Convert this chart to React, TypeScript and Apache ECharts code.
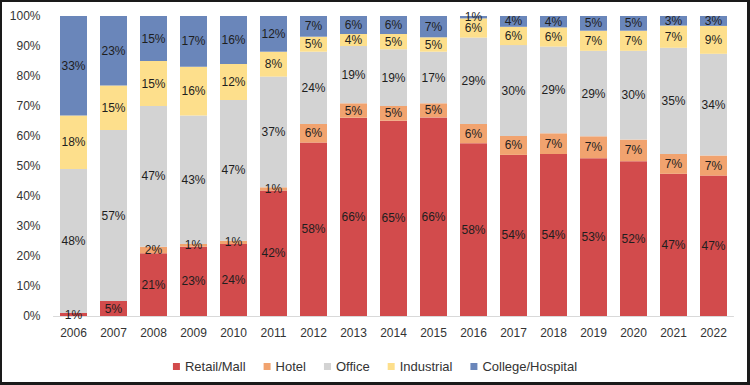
import React, { useEffect, useRef } from "react";
import * as echarts from "echarts";

const years = ["2006", "2007", "2008", "2009", "2010", "2011", "2012", "2013", "2014", "2015", "2016", "2017", "2018", "2019", "2020", "2021", "2022"];
const retailMall = [1, 5, 20.9, 23.1, 24, 41.8, 57.8, 66.1, 65.1, 66.2, 57.6, 53.7, 54, 52.6, 51.6, 47.4, 46.8];
const hotel = [0, 0, 2.2, 0.9, 1.1, 1.1, 6.2, 4.8, 4.9, 4.7, 6.4, 6.3, 6.9, 7.3, 7.2, 6.6, 6.7];
const office = [48, 57, 46.9, 42.8, 46.9, 36.9, 24.1, 19.1, 18.9, 17.2, 28.8, 30.3, 28.9, 28.5, 29.6, 35.4, 33.9];
const industrial = [17.8, 14.8, 15, 16.3, 12, 8.3, 5, 4, 5.1, 4.8, 6.4, 6.1, 6.4, 6.7, 6.7, 7.4, 9.3];
const collegeHospital = [33.2, 23.2, 15, 16.9, 16, 11.9, 6.9, 6, 6, 7.1, 0.8, 3.6, 3.8, 4.9, 4.9, 3.2, 3.3];
const yTicks = [0, 10, 20, 30, 40, 50, 60, 70, 80, 90, 100];

const FONT = "'Liberation Sans', Arial, sans-serif";

const seriesDefs = [
  { name: "Retail/Mall", data: retailMall, color: "#D24B4C" },
  { name: "Hotel", data: hotel, color: "#F1A36F" },
  { name: "Office", data: office, color: "#D3D3D3" },
  { name: "Industrial", data: industrial, color: "#FDDF8C" },
  { name: "College/Hospital", data: collegeHospital, color: "#6A86BA" },
];

export default function App() {
  const ref = useRef<HTMLDivElement>(null);
  useEffect(() => {
    if (!ref.current) return;
    const chart = echarts.init(ref.current, null, { renderer: "svg" });
    chart.setOption({
      animation: false,
      backgroundColor: "#ffffff",
      textStyle: { fontFamily: FONT },
      grid: { left: 53.5, right: 16.5, top: 16, bottom: 69 },
      legend: {
        top: 355,
        left: "center",
        icon: "rect",
        itemWidth: 7,
        itemHeight: 7,
        itemGap: 18,
        textStyle: { fontFamily: FONT, fontSize: 13, color: "#333" },
        data: seriesDefs.map((s) => s.name),
      },
      xAxis: {
        type: "category",
        data: years,
        axisTick: { show: false },
        axisLine: { lineStyle: { color: "#D9D9D9", width: 1 } },
        axisLabel: { fontFamily: FONT, fontSize: 12, color: "#333", margin: 11 },
      },
      yAxis: {
        type: "value",
        min: 0,
        max: 100,
        interval: 10,
        splitLine: { show: false },
        axisLine: { show: false },
        axisTick: { show: false },
        axisLabel: {
          fontFamily: FONT,
          fontSize: 12,
          color: "#333",
          margin: 13,
          formatter: (v: number) => (yTicks.includes(v) ? v + "%" : ""),
        },
      },
      series: seriesDefs.map((s) => ({
        name: s.name,
        type: "bar",
        stack: "total",
        barWidth: 27,
        data: s.data,
        itemStyle: { color: s.color },
        label: {
          show: true,
          position: "inside",
          fontFamily: FONT,
          fontSize: 12,
          color: "#1e1e1e",
          formatter: (p: any) => (p.value > 0 ? Math.round(p.value) + "%" : ""),
        },
      })),
    });
    return () => chart.dispose();
  }, []);
  return (
    <div style={{ position: "fixed", left: 0, top: 0, width: 750, height: 385 }}>
      <div ref={ref} style={{ position: "absolute", left: 0, top: 0, width: 750, height: 385 }} />
      <div
        style={{
          position: "absolute",
          left: 0,
          top: 0,
          width: 750,
          height: 385,
          boxSizing: "border-box",
          borderTop: "2px solid #1a1a1a",
          borderLeft: "2px solid #1a1a1a",
          borderRight: "3px solid #1a1a1a",
          borderBottom: "3px solid #1a1a1a",
          pointerEvents: "none",
        }}
      />
    </div>
  );
}
